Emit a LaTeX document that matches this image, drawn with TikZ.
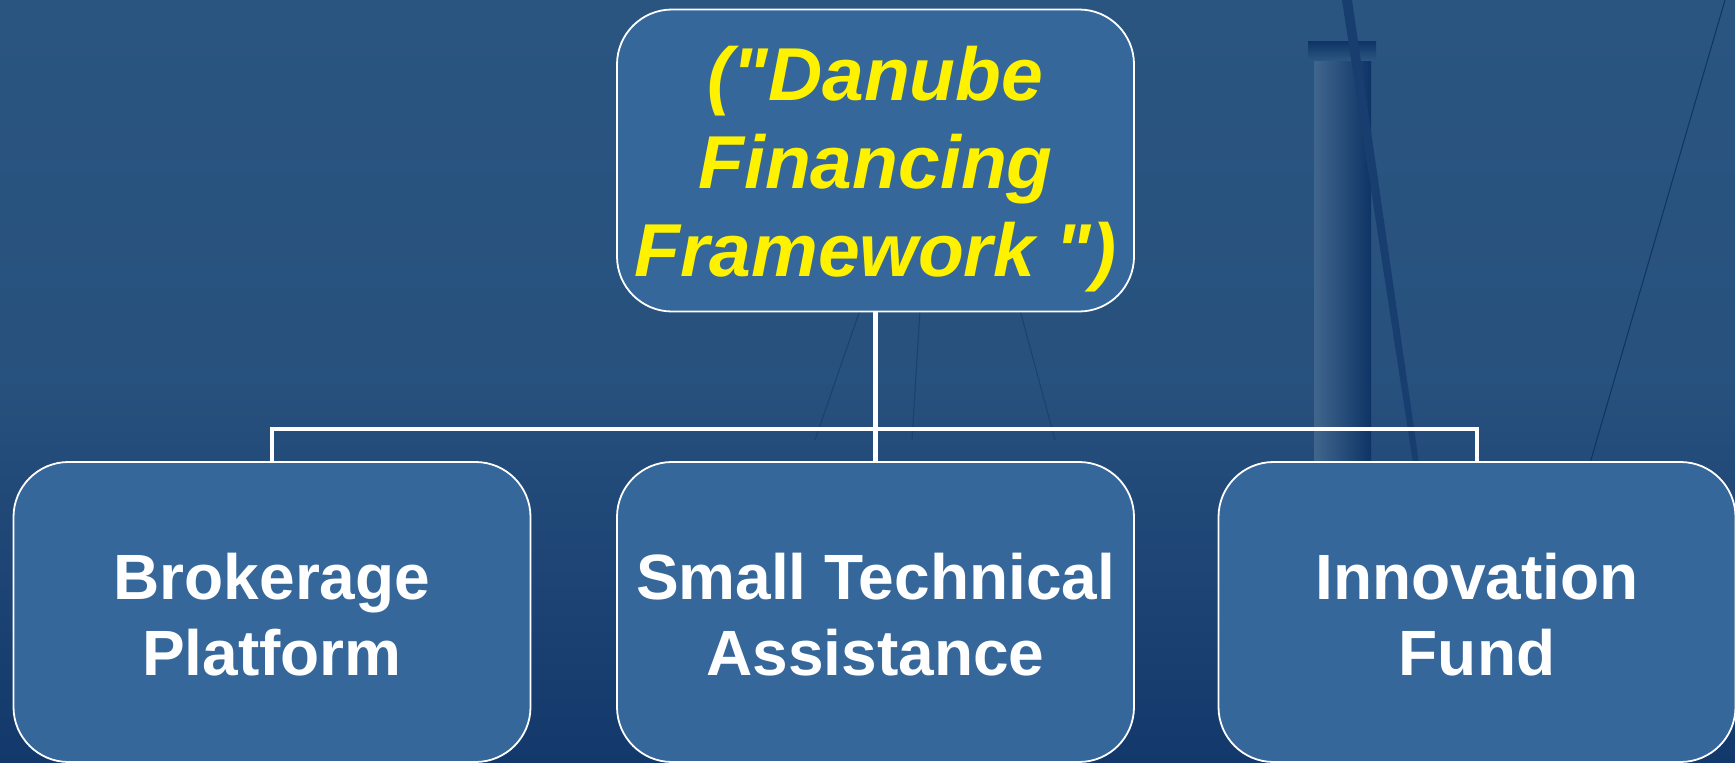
\documentclass[tikz,border=0pt]{standalone}
\usepackage{fontspec}
\setmainfont{Liberation Sans}[Ligatures=TeXOff]
\begin{document}
\begin{tikzpicture}[x=1pt,y=-1pt]
\definecolor{bgtop}{HTML}{2B5581}
\definecolor{bgbot}{HTML}{13386B}
\definecolor{boxfill}{HTML}{35679A}
\definecolor{darkline}{HTML}{0E3466}
\tikzset{
  boxnode/.style={draw=white, line width=1.8pt, fill=boxfill, rounded corners=55pt,
    minimum width=517pt},
  topnode/.style={boxnode, minimum height=302pt},
  lownode/.style={boxnode, minimum height=300pt},
  toptext/.style={align=center, text=yellow, inner sep=0pt,
    font=\fontsize{75}{88}\selectfont\bfseries\itshape},
  lowtext/.style={align=center, text=white, inner sep=0pt,
    font=\fontsize{64}{76}\selectfont\bfseries},
  conn/.style={draw=white, line width=4.5pt}
}
\useasboundingbox (0,0) rectangle (1735,763);
\shade[top color=bgtop, bottom color=bgbot, middle color=bgtop!85!bgbot] (0,0) rectangle (1735,763);
% faint background scale
\shade[left color=bgtop!90!white, right color=darkline] (1314,50) rectangle (1371,470);
\shade[top color=darkline, bottom color=bgtop] (1308,41) rectangle (1376,60);
\fill[darkline!70!bgtop] (1342,0) -- (1352,0) -- (1420,470) -- (1414,470) -- cycle;
\draw[darkline, line width=1pt] (1725,0) -- (1588,470);
\draw[darkline!60!bgtop, line width=1pt] (860,310) -- (815,440);
\draw[darkline!60!bgtop, line width=1pt] (920,310) -- (912,440);
\draw[darkline!60!bgtop, line width=1pt] (1020,310) -- (1055,440);
% boxes
\node[topnode] (top) at (875.5,160.5) {};
\node[lownode] (b1) at (272,612) {};
\node[lownode] (b2) at (875.5,612) {};
\node[lownode] (b3) at (1477,612) {};
% texts
\node[toptext] (toplabel) at ([yshift=-9pt]top.center) {("Danube\\Financing\\Framework ")};
\node[lowtext] (b1label) at ([yshift=-3pt]b1.center) {Brokerage\\Platform};
\node[lowtext] (b2label) at ([yshift=-3pt]b2.center) {Small Technical\\Assistance};
\node[lowtext] (b3label) at ([yshift=-3pt]b3.center) {Innovation\\Fund};
% connectors
\coordinate (j) at (875.5,429);
\draw[conn] (top.south) -- (j);
\draw[conn] (b1.north) -- (b1.north |- j) -- (b3.north |- j) -- (b3.north);
\draw[conn] (j) -- (b2.north);
\end{tikzpicture}
\end{document}
